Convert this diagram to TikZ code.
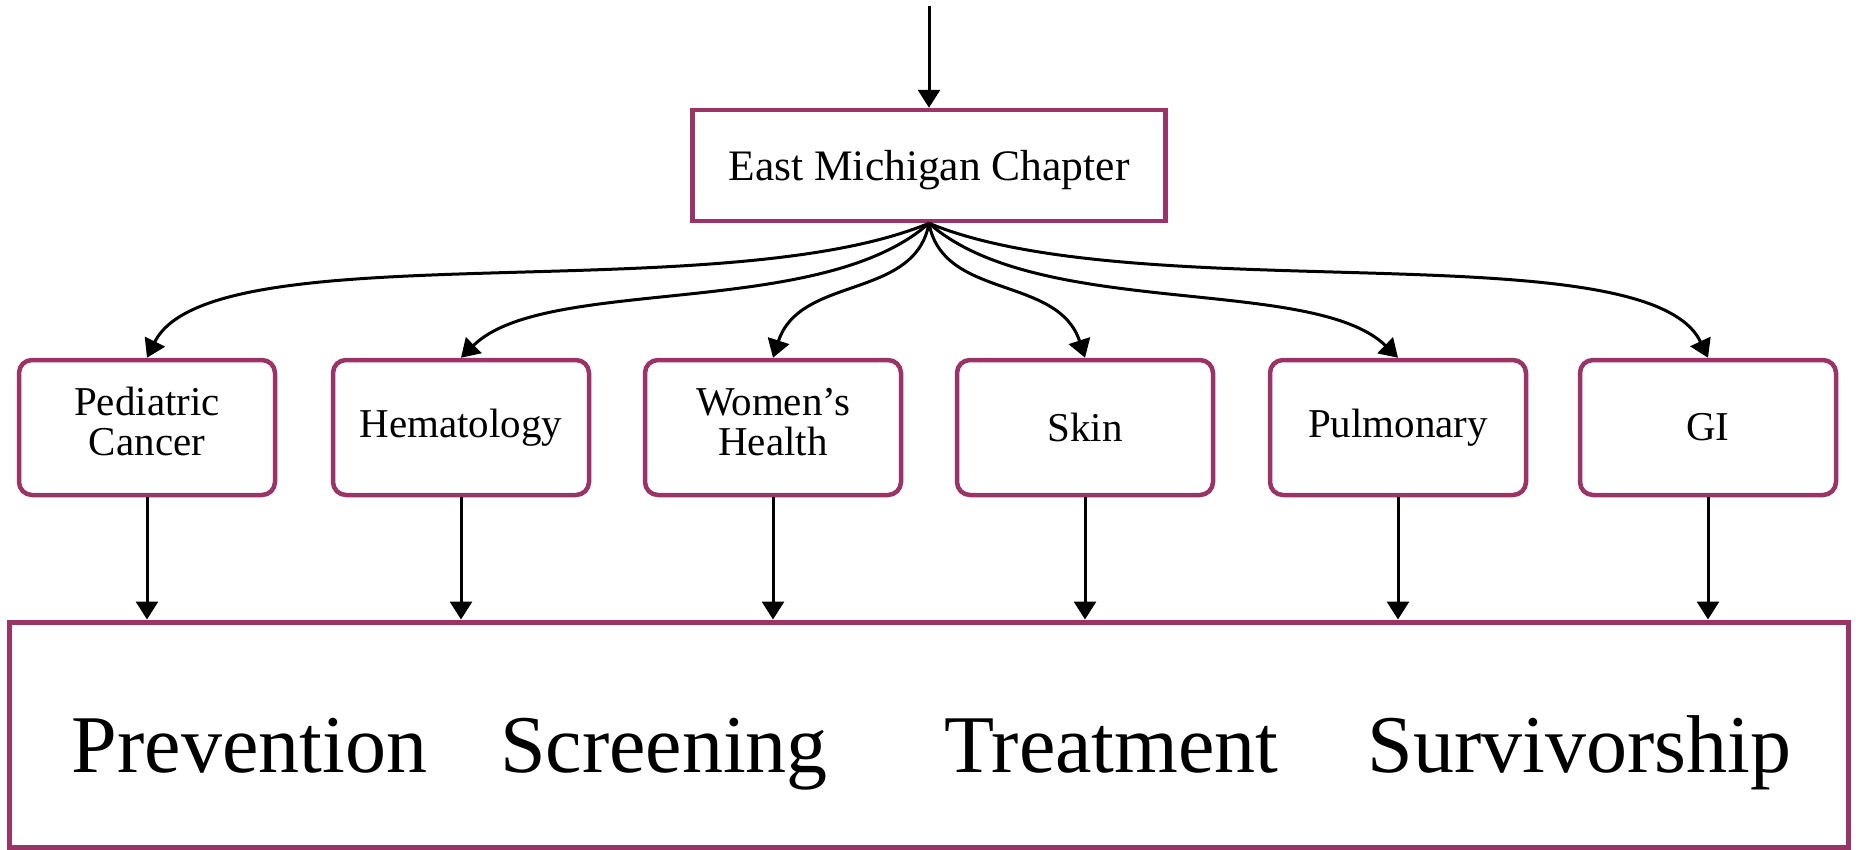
\documentclass[tikz,border=0pt]{standalone}
\usepackage{fontspec}
\setmainfont{Liberation Serif}
\usetikzlibrary{arrows.meta}
\definecolor{plum}{RGB}{155,52,102}
\begin{document}
\begin{tikzpicture}[x=1pt,y=-1pt,
  arr/.style={line width=3pt,-{Triangle[width=22pt,length=18pt]}},
  topbox/.style={draw=plum,line width=4.5pt,minimum width=473pt,minimum height=111pt,inner sep=0pt,
    font=\fontsize{43.5}{44}\selectfont,text height=38pt,text depth=9pt},
  midbox/.style={draw=plum,line width=4.5pt,rounded corners=13pt,minimum width=256pt,minimum height=135pt,
    inner sep=0pt,align=center,font=\fontsize{41}{40}\selectfont},
  twoline/.style={text depth=12pt},
  bigbox/.style={draw=plum,line width=5pt,minimum width=1839pt,minimum height=225pt,inner sep=0pt},
  phase/.style={anchor=base,inner sep=0pt,font=\fontsize{82}{82}\selectfont}]
\useasboundingbox (0,0) rectangle (1856,849);
\fill[white] (0,0) rectangle (1856,849);

\node[topbox] (top) at (929,165.5) {East Michigan Chapter};
\coordinate (start) at (929,6);

\node[midbox,twoline] (b1) at (147,427.5) {Pediatric\\Cancer};
\node[midbox] (b2) at (461,427.5) {Hematology};
\node[midbox,twoline] (b3) at (773,427.5) {Women's\\Health};
\node[midbox] (b4) at (1085,427.5) {Skin};
\node[midbox] (b5) at (1398,427.5) {Pulmonary};
\node[midbox] (b6) at (1708,427.5) {GI};

\node[bigbox] (big) at (928.5,734.5) {};
\node[phase] (p1) at (249.5,772) {Prevention};
\node[phase] (p2) at (664,772) {Screening};
\node[phase] (p3) at (1111.5,772) {Treatment};
\node[phase] (p4) at (1579.5,772) {Survivorship};

\draw[arr] (start) -- (top.north);

\draw[arr] (top.south) .. controls (720,310) and (210,230) .. (b1.north);
\draw[arr] (top.south) .. controls (820,320) and (545,275) .. (b2.north);
\draw[arr] (top.south) .. controls (915,300) and (800,275) .. (b3.north);
\draw[arr] (top.south) .. controls (943,300) and (1058,275) .. (b4.north);
\draw[arr] (top.south) .. controls (1038,320) and (1313,275) .. (b5.north);
\draw[arr] (top.south) .. controls (1138,310) and (1648,230) .. (b6.north);

\foreach \b in {b1,b2,b3,b4,b5,b6}
  \draw[arr] (\b.south) -- (\b.south |- big.north);
\end{tikzpicture}
\end{document}
